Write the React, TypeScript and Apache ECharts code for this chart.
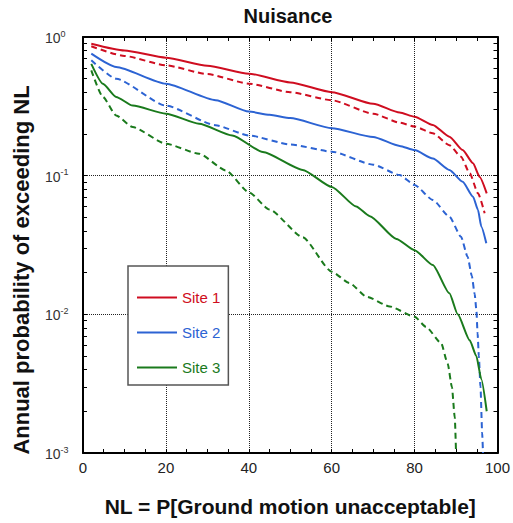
import React, { useEffect, useRef } from "react";
import * as echarts from "echarts";

const TITLE = "Nuisance";
const X_NAME = "NL = P[Ground motion unacceptable]";
const Y_NAME = "Annual probability of exceeding NL";
const SITES = ["Site 1", "Site 2", "Site 3"];
const COLORS = ["#cf0d20", "#2c63d3", "#1a7a1c"];
const FONT = "Liberation Sans, Arial, Helvetica, sans-serif";

// Site 1
const site1SolidX = [2, 10, 20, 30, 40, 50, 60, 70, 76.4, 80, 84.4, 88.4, 91.6, 94.1, 95.7, 97.4];
const site1SolidY = [0.895, 0.80, 0.71, 0.62, 0.544, 0.47, 0.40, 0.33, 0.285, 0.266, 0.232, 0.191, 0.153, 0.123, 0.098, 0.0746];
const site1DashX = [2, 10, 20, 30, 40, 50, 60, 70, 76.4, 80, 84.4, 88.4, 91.2, 93.3, 95.3, 96.9];
const site1DashY = [0.857, 0.73, 0.625, 0.54, 0.461, 0.40, 0.35, 0.28, 0.241, 0.226, 0.202, 0.166, 0.137, 0.104, 0.0746, 0.0536];
// Site 2
const site2SolidX = [2, 8, 20, 32, 40, 45, 50, 60, 70, 76.4, 80, 84.4, 88.4, 91.6, 94.1, 95.3, 96.1, 97.3];
const site2SolidY = [0.758, 0.608, 0.461, 0.35, 0.29, 0.275, 0.26, 0.22, 0.19, 0.164, 0.153, 0.133, 0.11, 0.0905, 0.0706, 0.0566, 0.0429, 0.0326];
const site2DashX = [2, 8, 20, 32, 40, 50, 60, 70, 76.4, 80, 84.4, 88.4, 91.2, 92.8, 93.8, 94.5, 94.9, 95.2, 95.5, 95.9, 96.3, 96.5];
const site2DashY = [0.68, 0.50, 0.32, 0.231, 0.195, 0.168, 0.149, 0.12, 0.101, 0.0857, 0.0668, 0.0506, 0.0363, 0.026, 0.019, 0.014, 0.0108, 0.0073, 0.005, 0.003, 0.0014, 0.001];
// Site 3
const site3SolidX = [2, 4.8, 8, 12, 20, 28, 36, 43.4, 53, 60, 65.9, 69.2, 75.6, 80, 84.4, 88.4, 90.4, 93.3, 94.9, 96.1, 97.4];
const site3SolidY = [0.64, 0.46, 0.37, 0.32, 0.28, 0.237, 0.195, 0.148, 0.11, 0.083, 0.06, 0.051, 0.035, 0.029, 0.0227, 0.0142, 0.01, 0.0065, 0.005, 0.0034, 0.002];
const site3DashX = [2, 4.8, 8, 12, 20, 28, 34.5, 40, 45, 53, 60, 64.3, 68.4, 74, 80, 82.8, 86.4, 88, 89, 89.7, 90];
const site3DashY = [0.575, 0.37, 0.272, 0.224, 0.17, 0.144, 0.109, 0.076, 0.057, 0.036, 0.0203, 0.0168, 0.0134, 0.0114, 0.0096, 0.0081, 0.0062, 0.0044, 0.003, 0.0018, 0.001];

const X_MIN = 0;
const X_MAX = 100;
const X_STEP = 20;
const Y_MIN = 0.001;
const Y_MAX = 1;
const Y_TICKS = [
  0.001, 0.002, 0.003, 0.004, 0.005, 0.006, 0.007, 0.008, 0.009,
  0.01, 0.02, 0.03, 0.04, 0.05, 0.06, 0.07, 0.08, 0.09,
  0.1, 0.2, 0.3, 0.4, 0.5, 0.6, 0.7, 0.8, 0.9, 1,
];

const zip = (xs: number[], ys: number[]) => xs.map((x, i) => [x, ys[i]]);

export default function App() {
  const ref = useRef<HTMLDivElement>(null);
  useEffect(() => {
    if (!ref.current) return;
    const chart = echarts.init(ref.current, undefined, { renderer: "svg" });
    const axisLine = { show: true, lineStyle: { color: "#000", width: 2 } };
    const tick = { show: true, inside: true, length: 4, lineStyle: { color: "#000", width: 1 } };
    const mkLog = (position: string, showLine: boolean) => ({
      type: "log",
      logBase: 10,
      min: Y_MIN,
      max: Y_MAX,
      position,
      axisLine: showLine ? axisLine : { show: false },
      axisTick: { ...tick, customValues: Y_TICKS },
      axisLabel: { show: false },
      splitLine: { show: false },
    });
    const series: any[] = [];
    const solid = [
      zip(site1SolidX, site1SolidY),
      zip(site2SolidX, site2SolidY),
      zip(site3SolidX, site3SolidY),
    ];
    const dashed = [
      zip(site1DashX, site1DashY),
      zip(site2DashX, site2DashY),
      zip(site3DashX, site3DashY),
    ];
    SITES.forEach((name, i) => {
      series.push({
        name,
        type: "line",
        symbol: "none",
        showSymbol: false,
        smooth: 0.2,
        smoothMonotone: "x",
        data: solid[i],
        lineStyle: { color: COLORS[i], width: 2 },
        itemStyle: { color: COLORS[i] },
        z: 3,
      });
      series.push({
        name: name + " (dashed)",
        type: "line",
        symbol: "none",
        showSymbol: false,
        smooth: 0.2,
        smoothMonotone: "x",
        data: dashed[i],
        lineStyle: { color: COLORS[i], width: 2, type: [6, 4] },
        itemStyle: { color: COLORS[i] },
        z: 3,
      });
    });
    chart.setOption({
      animation: false,
      textStyle: { fontFamily: FONT },
      grid: { left: 83, right: 15, top: 37, bottom: 70, containLabel: false },
      graphic: [
        {
          type: "text",
          x: 288,
          y: 16,
          style: {
            text: TITLE,
            fontFamily: FONT,
            fontSize: 20,
            fontWeight: "bold",
            fill: "#111",
            textAlign: "center",
            textVerticalAlign: "middle",
          },
        },
        {
          type: "text",
          x: 21,
          y: 270,
          rotation: Math.PI / 2,
          style: {
            text: Y_NAME,
            fontFamily: FONT,
            fontSize: 22,
            fontWeight: "bold",
            fill: "#111",
            textAlign: "center",
            textVerticalAlign: "middle",
          },
        },
      ],
      legend: {
        data: SITES.map((n, i) => ({ name: n, textStyle: { color: COLORS[i] } })),
        orient: "vertical",
        left: 128,
        top: 266,
        padding: [24, 8, 10, 8],
        itemGap: 20,
        itemWidth: 40,
        itemHeight: 14,
        itemStyle: { opacity: 0 },
        backgroundColor: "#fff",
        borderColor: "#555",
        borderWidth: 1.5,
        textStyle: { fontSize: 15, fontFamily: FONT },
        z: 10,
      },
      xAxis: [
        {
          type: "value",
          min: X_MIN,
          max: X_MAX,
          interval: X_STEP,
          position: "bottom",
          axisLine,
          axisTick: tick,
          minorTick: { show: true, splitNumber: 4, length: 4, lineStyle: { color: "#000", width: 1 } },
          axisLabel: { fontSize: 15, color: "#222", margin: 7, fontFamily: FONT },
          splitLine: { show: true, lineStyle: { type: "dotted", color: "#222", width: 1 } },
          name: X_NAME,
          nameLocation: "middle",
          nameGap: 43,
          nameTextStyle: { fontSize: 21, fontWeight: "bold", color: "#111", fontFamily: FONT },
        },
        {
          type: "value",
          min: X_MIN,
          max: X_MAX,
          interval: X_STEP,
          position: "top",
          axisLine,
          axisTick: tick,
          minorTick: { show: true, splitNumber: 4, length: 4, lineStyle: { color: "#000", width: 1 } },
          axisLabel: { show: false },
          splitLine: { show: false },
        },
      ],
      yAxis: [
        {
          type: "log",
          logBase: 10,
          min: Y_MIN,
          max: Y_MAX,
          position: "left",
          axisLine,
          axisTick: { show: false },
          axisLabel: {
            align: "left",
            margin: 38,
            formatter: (v: number) => `{b|10}{s|${Math.round(Math.log10(v))}}`,
            rich: {
              b: { fontSize: 14, color: "#333", fontFamily: FONT, lineHeight: 16, verticalAlign: "bottom" },
              s: { fontSize: 9, color: "#333", fontFamily: FONT, lineHeight: 10, verticalAlign: "top" },
            },
          },
          splitLine: { show: true, lineStyle: { type: "dotted", color: "#222", width: 1 } },
        },
        mkLog("left", false),
        mkLog("right", true),
      ],
      series,
    });
    return () => chart.dispose();
  }, []);
  return (
    <div
      ref={ref}
      style={{ position: "fixed", left: 0, top: 0, width: 513, height: 523, background: "#fff" }}
    />
  );
}
